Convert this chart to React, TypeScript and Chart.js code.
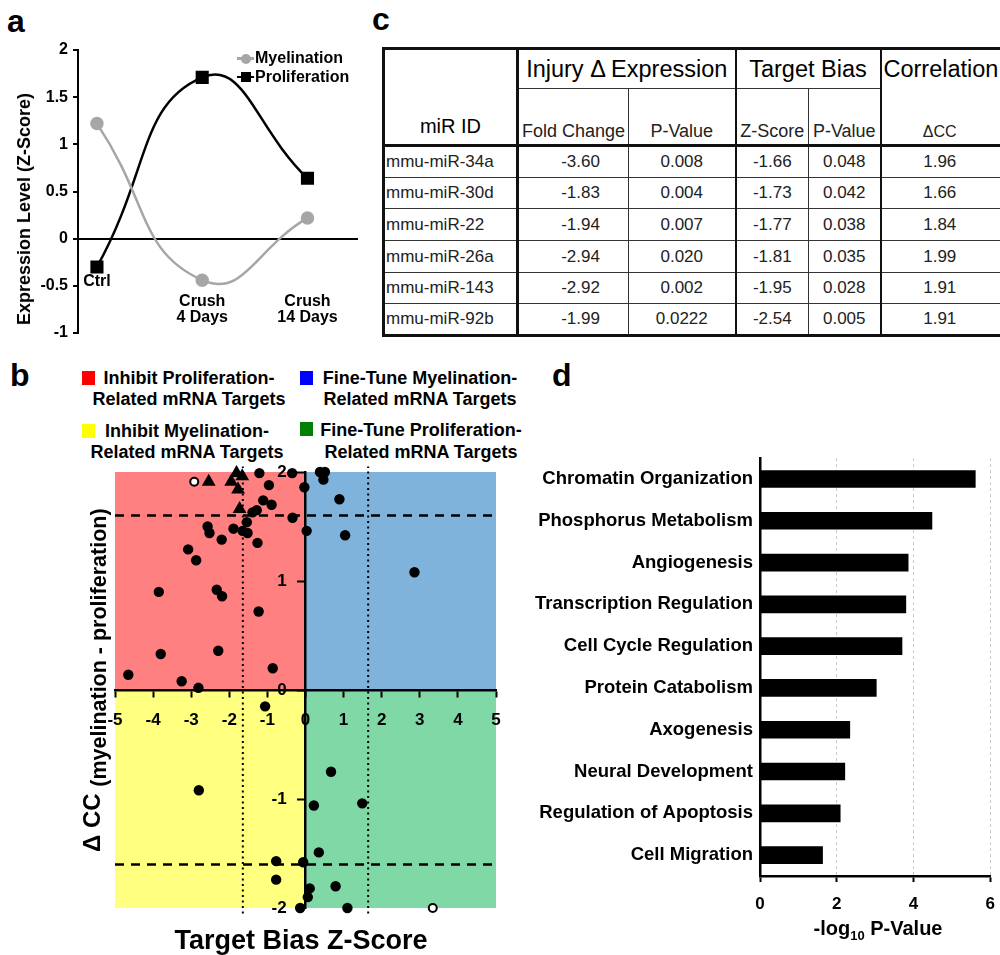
import React, { useEffect, useRef } from "react";
import { Chart, registerables } from "chart.js";

Chart.register(...registerables);

const FONT = '"Liberation Sans", Arial, Helvetica, sans-serif';
Chart.defaults.font.family = FONT;
Chart.defaults.color = "#000";

// ---------- Panel a: expression time course ----------
const timeLabels = [["Ctrl"], ["Crush", "4 Days"], ["Crush", "14 Days"]];
const timeIndex = [0, 1, 2];
const myelination = [1.22, -0.44, 0.22];
const proliferation = [-0.3, 1.71, 0.64];
const expressionTicks = [-1, -0.5, 0, 0.5, 1, 1.5, 2];

// ---------- Panel c: table ----------
const mirIds = ["mmu-miR-34a", "mmu-miR-30d", "mmu-miR-22", "mmu-miR-26a", "mmu-miR-143", "mmu-miR-92b"];
const foldChange = ["-3.60", "-1.83", "-1.94", "-2.94", "-2.92", "-1.99"];
const injuryPValue = ["0.008", "0.004", "0.007", "0.020", "0.002", "0.0222"];
const biasZScore = ["-1.66", "-1.73", "-1.77", "-1.81", "-1.95", "-2.54"];
const biasPValue = ["0.048", "0.042", "0.038", "0.035", "0.028", "0.005"];
const deltaCC = ["1.96", "1.66", "1.84", "1.99", "1.91", "1.91"];

// ---------- Panel b: target bias scatter ----------
const dotZ = [
  -1.21, -0.96, -1.11, -0.89, -1.28, -1.39, -0.35, -0.03, -0.34, -1.54, -1.65, -1.52, -1.89, -2.57, -2.52,
  -2.2, -1.26, -3.08, -2.87, -3.85, -2.33, -2.19, -1.23, -3.8, -2.29, -4.65, -3.25, -2.81, -0.86,
  0.03, 0.38, 0.51, 0.47, 0.89, 1.04, 2.86,
  -1.06, -2.8, -0.77, -0.06, -0.77, -0.14,
  0.67, 0.22, 1.49, 0.35, 0.11, 0.06, 0.79, 1.1,
];
const dotCC = [
  1.99, 1.88, 1.74, 1.7, 1.65, 1.63, 1.99, 1.86, 1.58, 1.54, 1.46, 1.44, 1.48, 1.5, 1.44,
  1.38, 1.35, 1.29, 1.19, 0.9, 0.92, 0.86, 0.72, 0.33, 0.36, 0.14, 0.08, 0.02, 0.2,
  1.46, 2.0, 2.0, 1.93, 1.75, 1.42, 1.08,
  -0.15, -0.92, -1.57, -1.58, -1.74, -2.0,
  -0.75, -1.06, -1.04, -1.49, -1.82, -1.9, -1.8, -2.0,
];
const openZ = [-2.92, 3.34];
const openCC = [1.91, -2.0];
const triangleZ = biasZScore.map(Number);
const triangleCC = deltaCC.map(Number);
const zCut = 1.645;
const ccCut = 1.6;

// ---------- Panel d: GO terms ----------
const goTerms = [
  "Chromatin Organization",
  "Phosphorus Metabolism",
  "Angiogenesis",
  "Transcription Regulation",
  "Cell Cycle Regulation",
  "Protein Catabolism",
  "Axogenesis",
  "Neural Development",
  "Regulation of Apoptosis",
  "Cell Migration",
];
const goLogP = [5.61, 4.48, 3.86, 3.8, 3.7, 3.03, 2.34, 2.21, 2.09, 1.63];
const logPTicks = [0, 2, 4, 6];

const QUAD_RED = "#ff8080";
const QUAD_BLUE = "#80b3dc";
const QUAD_YELLOW = "#ffff80";
const QUAD_GREEN = "#80d8a6";

const quadrantPlugin = {
  id: "quadrants",
  beforeDraw(chart: any) {
    const { ctx } = chart;
    const x = chart.scales.x;
    const y = chart.scales.y;
    const xl = x.getPixelForValue(x.min);
    const xr = x.getPixelForValue(x.max);
    const x0 = x.getPixelForValue(0);
    const yt = y.getPixelForValue(y.max);
    const yb = y.getPixelForValue(y.min);
    const y0 = y.getPixelForValue(0);
    ctx.save();
    ctx.fillStyle = QUAD_RED;
    ctx.fillRect(xl, yt, x0 - xl, y0 - yt);
    ctx.fillStyle = QUAD_BLUE;
    ctx.fillRect(x0, yt, xr - x0, y0 - yt);
    ctx.fillStyle = QUAD_YELLOW;
    ctx.fillRect(xl, y0, x0 - xl, yb - y0);
    ctx.fillStyle = QUAD_GREEN;
    ctx.fillRect(x0, y0, xr - x0, yb - y0);
    ctx.restore();
  },
};

const boldTick = (size: number) => ({ size, weight: "bold" as const, family: FONT });

function timeAxis(values: number[], yPos: number): any {
  return {
    type: "linear",
    min: -0.18,
    max: 2.48,
    position: { y: yPos },
    afterBuildTicks: (s: any) => {
      s.ticks = values.map((v) => ({ value: v }));
    },
    grid: { display: false, drawTicks: false },
    border: { display: false },
    ticks: {
      callback: (v: any) => timeLabels[v],
      font: { size: 16, weight: "bold", lineHeight: 1.0 },
      color: "#000",
      padding: 8,
      maxRotation: 0,
      autoSkip: false,
      crossAlign: "near",
    },
  };
}

function configA(): any {
  return {
    type: "line",
    data: {
      datasets: [
        {
          label: "Myelination",
          data: timeIndex.map((x, i) => ({ x, y: myelination[i] })),
          borderColor: "#a6a6a6",
          backgroundColor: "#a6a6a6",
          borderWidth: 2.5,
          pointRadius: 5.5,
          pointStyle: "circle",
          tension: 0.5,
          clip: false,
          xAxisID: "x",
        },
        {
          label: "Proliferation",
          data: timeIndex.map((x, i) => ({ x, y: proliferation[i] })),
          borderColor: "#000",
          backgroundColor: "#000",
          borderWidth: 2.5,
          pointRadius: 7.5,
          pointStyle: "rect",
          tension: 0.5,
          clip: false,
          xAxisID: "x",
        },
      ],
    },
    options: {
      animation: false,
      responsive: false,
      events: [],
      layout: { padding: { left: 0, top: 15, right: 12, bottom: 15 } },
      plugins: { legend: { display: false }, tooltip: { enabled: false } },
      scales: {
        x: timeAxis(timeIndex.slice(1), -0.5),
        xCtrl: timeAxis(timeIndex.slice(0, 1), -0.29),
        y: {
          type: "linear",
          min: -1,
          max: 2,
          afterBuildTicks: (s: any) => {
            s.ticks = expressionTicks.map((v) => ({ value: v }));
          },
          afterFit: (s: any) => {
            s.width = 78;
          },
          ticks: { font: boldTick(16), color: "#000", padding: 5, callback: (v: any) => String(v) },
          grid: {
            color: (c: any) => (c.tick && c.tick.value === 0 ? "#000" : "rgba(0,0,0,0)"),
            lineWidth: 2,
            tickColor: "#000",
            tickLength: 5,
            tickWidth: 2,
          },
          border: { color: "#000", width: 2 },
        },
      },
    },
  };
}

function configB(): any {
  const lineDs = (data: any[], dash: number[], width: number) => ({
    type: "line",
    data,
    borderColor: "#000",
    borderWidth: width,
    borderDash: dash,
    pointRadius: 0,
    fill: false,
    clip: false,
    order: 5,
  });
  return {
    type: "scatter",
    data: {
      datasets: [
        {
          label: "Validated miRs",
          data: triangleZ.map((x, i) => ({ x, y: triangleCC[i] })),
          pointStyle: "triangle",
          pointRadius: 8,
          backgroundColor: "#000",
          borderColor: "#000",
          borderWidth: 0,
          clip: false,
          order: 0,
        },
        {
          label: "miRs",
          data: dotZ.map((x, i) => ({ x, y: dotCC[i] })),
          pointRadius: 5.2,
          backgroundColor: "#000",
          borderColor: "#000",
          borderWidth: 0,
          clip: false,
          order: 1,
        },
        {
          label: "Other",
          data: openZ.map((x, i) => ({ x, y: openCC[i] })),
          pointRadius: 4,
          backgroundColor: "#fff",
          borderColor: "#000",
          borderWidth: 2,
          clip: false,
          order: 1,
        },
        lineDs([{ x: -5, y: ccCut }, { x: 4.9, y: ccCut }], [9, 7], 2.5),
        lineDs([{ x: -5, y: -ccCut }, { x: 4.9, y: -ccCut }], [9, 7], 2.5),
        lineDs([{ x: -zCut, y: -2.05 }, { x: -zCut, y: 2.05 }], [2, 3.5], 2),
        lineDs([{ x: zCut, y: -2.05 }, { x: zCut, y: 2.05 }], [2, 3.5], 2),
      ],
    },
    options: {
      animation: false,
      responsive: false,
      events: [],
      layout: { padding: { left: 25, top: 25, right: 25, bottom: 25 } },
      plugins: { legend: { display: false }, tooltip: { enabled: false } },
      scales: {
        x: {
          type: "linear",
          min: -5,
          max: 5,
          position: { y: 0 },
          ticks: { stepSize: 1, font: boldTick(17), color: "#000", padding: 14 },
          grid: { drawOnChartArea: false, tickLength: 6, tickColor: "#000", tickWidth: 2 },
          border: { color: "#000", width: 2.5 },
        },
        y: {
          type: "linear",
          min: -2,
          max: 2,
          position: { x: 0 },
          ticks: {
            stepSize: 1,
            font: boldTick(17),
            color: "#000",
            callback: (v: any) => `${v}    `,
          },
          grid: { drawOnChartArea: false, tickLength: 7, tickColor: "#000", tickWidth: 2 },
          border: { color: "#000", width: 2.5 },
        },
      },
    },
    plugins: [quadrantPlugin],
  };
}

function configD(): any {
  return {
    type: "bar",
    data: {
      labels: goTerms,
      datasets: [{ label: "-log10 P-Value", data: goLogP, backgroundColor: "#000", barThickness: 17 }],
    },
    options: {
      indexAxis: "y",
      animation: false,
      responsive: false,
      events: [],
      layout: { padding: { left: 0, top: 18, right: 14, bottom: 34 } },
      plugins: { legend: { display: false }, tooltip: { enabled: false } },
      scales: {
        x: {
          min: 0,
          max: 6,
          afterBuildTicks: (s: any) => {
            s.ticks = logPTicks.map((v) => ({ value: v }));
          },
          afterFit: (s: any) => {
            s.height = 45;
          },
          ticks: { font: boldTick(17), color: "#000", padding: 12 },
          grid: {
            color: (c: any) => (c.tick && c.tick.value === 0 ? "rgba(0,0,0,0)" : "#c8c8c8"),
            lineWidth: 1,
            tickColor: "#000",
            tickLength: 6,
            tickWidth: 2,
          },
          border: { color: "#000", width: 2.5, dash: [3, 3] },
        },
        y: {
          ticks: { font: boldTick(18.5), color: "#000", padding: 7, autoSkip: false },
          grid: { display: false, drawTicks: false },
          border: { color: "#000", width: 2.5 },
          afterFit: (s: any) => {
            s.width = 240;
          },
        },
      },
    },
  };
}

function ChartCanvas(props: { left: number; top: number; width: number; height: number; make: () => any }) {
  const ref = useRef<HTMLCanvasElement | null>(null);
  useEffect(() => {
    if (!ref.current) return;
    const chart = new Chart(ref.current, props.make());
    return () => chart.destroy();
  }, []);
  return (
    <canvas
      ref={ref}
      width={props.width}
      height={props.height}
      style={{ position: "absolute", left: props.left, top: props.top, width: props.width, height: props.height }}
    />
  );
}

function T(props: {
  x: number;
  y: number;
  size: number;
  bold?: boolean;
  align?: "left" | "center" | "right";
  children: any;
  style?: any;
}) {
  const { x, y, size, bold = true, align = "left", children, style = {} } = props;
  const tx = align === "left" ? "0" : align === "center" ? "-50%" : "-100%";
  return (
    <div
      style={{
        position: "absolute",
        left: x,
        top: y,
        transform: `translate(${tx},-50%)`,
        fontSize: size,
        fontWeight: bold ? "bold" : "normal",
        lineHeight: 1,
        whiteSpace: "nowrap",
        fontFamily: FONT,
        color: "#000",
        ...style,
      }}
    >
      {children}
    </div>
  );
}

function Box(props: { x: number; y: number; w: number; h: number; color: string; round?: boolean }) {
  return (
    <div
      style={{
        position: "absolute",
        left: props.x,
        top: props.y,
        width: props.w,
        height: props.h,
        background: props.color,
        borderRadius: props.round ? "50%" : 0,
      }}
    />
  );
}

const thin = "1px solid #333";
const med = "2px solid #111";
const thick = "3px solid #111";

function MirTable() {
  const cell: any = { padding: 0, fontFamily: FONT, color: "#222", textAlign: "center", verticalAlign: "middle", whiteSpace: "nowrap" };
  const head: any = { ...cell, color: "#000", fontSize: 23.5 };
  const sub: any = { ...cell, fontSize: 18, verticalAlign: "bottom", paddingBottom: 2 };
  const dataRows = [32, 31, 32, 32, 31, 32];
  return (
    <table
      style={{
        position: "absolute",
        left: 382,
        top: 47,
        width: 622,
        borderCollapse: "collapse",
        tableLayout: "fixed",
        border: thick,
      }}
    >
      <colgroup>
        <col style={{ width: 134 }} />
        <col style={{ width: 111 }} />
        <col style={{ width: 107 }} />
        <col style={{ width: 73 }} />
        <col style={{ width: 72 }} />
        <col style={{ width: 125 }} />
      </colgroup>
      <tbody>
        <tr style={{ height: 40 }}>
          <td
            rowSpan={2}
            style={{ ...cell, color: "#000", fontSize: 20, verticalAlign: "bottom", paddingBottom: 6, borderRight: thick, borderBottom: thick }}
          >
            miR ID
          </td>
          <td colSpan={2} style={{ ...head, borderRight: med, borderBottom: thin }}>
            Injury Δ Expression
          </td>
          <td colSpan={2} style={{ ...head, borderRight: med, borderBottom: thin }}>
            Target Bias
          </td>
          <td style={{ ...head, textAlign: "left", paddingLeft: 2, borderBottom: "none", overflow: "visible" }}>
            Correlation
          </td>
        </tr>
        <tr style={{ height: 57 }}>
          <td style={{ ...sub, borderRight: thin, borderBottom: thick }}>Fold Change</td>
          <td style={{ ...sub, borderRight: med, borderBottom: thick }}>P-Value</td>
          <td style={{ ...sub, borderRight: thin, borderBottom: thick }}>Z-Score</td>
          <td style={{ ...sub, borderRight: med, borderBottom: thick }}>P-Value</td>
          <td style={{ ...sub, fontSize: 16, paddingBottom: 3, paddingRight: 6, borderTop: "none", borderBottom: thick }}>ΔCC</td>
        </tr>
        {mirIds.map((id, i) => (
          <tr key={id} style={{ height: dataRows[i] }}>
            <td style={{ ...cell, fontSize: 17, textAlign: "left", paddingLeft: 1, borderRight: thick, borderBottom: thin }}>{id}</td>
            <td style={{ ...cell, fontSize: 17, paddingLeft: 14, borderRight: thin, borderBottom: thin }}>{foldChange[i]}</td>
            <td style={{ ...cell, fontSize: 17, borderRight: med, borderBottom: thin }}>{injuryPValue[i]}</td>
            <td style={{ ...cell, fontSize: 17, borderRight: thin, borderBottom: thin }}>{biasZScore[i]}</td>
            <td style={{ ...cell, fontSize: 17, borderRight: med, borderBottom: thin }}>{biasPValue[i]}</td>
            <td style={{ ...cell, fontSize: 17, paddingRight: 6, borderBottom: thin }}>{deltaCC[i]}</td>
          </tr>
        ))}
      </tbody>
    </table>
  );
}

export default function App() {
  return (
    <div
      style={{
        position: "absolute",
        left: 0,
        top: 0,
        width: 1000,
        height: 955,
        overflow: "hidden",
        background: "#fff",
        fontFamily: FONT,
      }}
    >
      {/* Panel letters */}
      <T x={7} y={21} size={32}>a</T>
      <T x={372} y={19} size={32}>c</T>
      <T x={10} y={375} size={32}>b</T>
      <T x={552} y={375} size={32}>d</T>

      {/* Panel a */}
      <ChartCanvas left={0} top={35} width={370} height={313} make={configA} />
      <T x={24} y={209} size={18} align="center" style={{ transform: "translate(-50%,-50%) rotate(-90deg)" }}>
        Expression Level (Z-Score)
      </T>
      <Box x={237} y={57} w={17} h={2.5} color="#a6a6a6" />
      <Box x={240.5} y={53.5} w={10} h={10} color="#a6a6a6" round />
      <T x={255} y={58} size={16}>Myelination</T>
      <Box x={237} y={75.5} w={17} h={2.5} color="#000" />
      <Box x={240.5} y={72} w={10} h={10} color="#000" />
      <T x={255} y={77} size={16}>Proliferation</T>

      {/* Panel c */}
      <MirTable />

      {/* Panel b legend */}
      <Box x={82} y={371} w={13} h={14} color="#ff0000" />
      <T x={189} y={378} size={18} align="center">Inhibit Proliferation-</T>
      <T x={189} y={399} size={18} align="center">Related mRNA Targets</T>
      <Box x={300} y={371} w={13} h={14} color="#0000ff" />
      <T x={420} y={378} size={18} align="center">Fine-Tune Myelination-</T>
      <T x={420} y={399} size={18} align="center">Related mRNA Targets</T>
      <Box x={82} y={424} w={13} h={14} color="#ffff00" />
      <T x={187} y={431} size={18} align="center">Inhibit Myelination-</T>
      <T x={187} y={452} size={18} align="center">Related mRNA Targets</T>
      <Box x={300} y={422} w={13} h={14} color="#008000" />
      <T x={421} y={430} size={18} align="center">Fine-Tune Proliferation-</T>
      <T x={421} y={452} size={18} align="center">Related mRNA Targets</T>

      {/* Panel b chart */}
      <ChartCanvas left={90} top={447} width={431} height={486} make={configB} />
      <div
        style={{
          position: "absolute",
          left: 92,
          top: 840,
          height: 24,
          lineHeight: "24px",
          transformOrigin: "0 50%",
          transform: "rotate(-90deg)",
          whiteSpace: "nowrap",
          fontFamily: FONT,
          fontWeight: "bold",
          fontSize: 24,
          color: "#000",
        }}
      >
        Δ CC <span style={{ fontSize: 21.5, position: "relative", top: 6 }}>(myelination - proliferation)</span>
      </div>
      <T x={301} y={940} size={27} align="center">Target Bias Z-Score</T>

      {/* Panel d */}
      <ChartCanvas left={520} top={440} width={487} height={515} make={configD} />
      <T x={878} y={928} size={20} align="center">
        -log<span style={{ fontSize: 13, position: "relative", top: 5 }}>10</span> P-Value
      </T>
    </div>
  );
}
